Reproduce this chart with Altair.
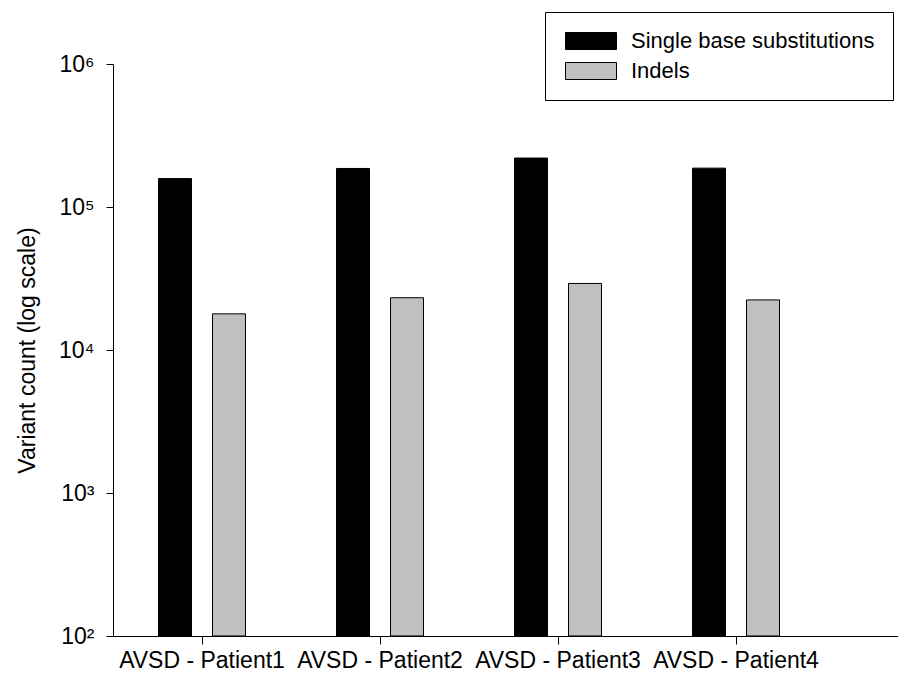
import altair as alt
import pandas as pd

patients = ["AVSD - Patient1", "AVSD - Patient2", "AVSD - Patient3", "AVSD - Patient4"]
series = ["Single base substitutions", "Indels"]
sbs_counts = [158000, 186000, 220000, 187000]
indel_counts = [17900, 23200, 29200, 22400]
y_ticks = [100, 1000, 10000, 100000, 1000000]
colors = ["#000000", "#c0c0c0"]

rows = []
for p, s, i in zip(patients, sbs_counts, indel_counts):
    rows.append({"patient": p, "type": series[0], "count": s})
    rows.append({"patient": p, "type": series[1], "count": i})
df = pd.DataFrame(rows)

FONT = "Liberation Sans"

chart = alt.Chart(df).mark_bar(stroke="black", strokeWidth=1).encode(
    x=alt.X("patient:N", sort=patients,
            scale=alt.Scale(paddingInner=0, paddingOuter=0.205, align=0),
            axis=alt.Axis(title=None, labelAngle=0, labelFontSize=23, labelFont=FONT,
                          labelColor="black", tickSize=8, labelPadding=5,
                          domainColor="black", tickColor="black", grid=False)),
    xOffset=alt.XOffset("type:N", sort=series,
                        scale=alt.Scale(paddingInner=0.389, paddingOuter=0.843)),
    y=alt.Y("count:Q",
            scale=alt.Scale(type="log", domain=[100, 1000000], nice=False),
            axis=alt.Axis(title="Variant count (log scale)", values=y_ticks,
                          labelExpr="'10' + ['⁰','¹','²','³','⁴','⁵','⁶'][round(log(datum.value)/LN10)]",
                          labelFontSize=23, labelFont=FONT, labelColor="black",
                          titleFontSize=23, titleFont=FONT, titleFontWeight="normal",
                          titleColor="black", titlePadding=19,
                          tickSize=7, labelPadding=12, domainColor="black",
                          tickColor="black", grid=False)),
    y2=alt.datum(100),
    color=alt.Color("type:N", sort=series,
                    scale=alt.Scale(domain=series, range=colors),
                    legend=alt.Legend(title=None, orient="none", legendX=432, legendY=-52,
                                      strokeColor="black", fillColor="white", padding=18,
                                      labelFontSize=22, labelFont=FONT, labelColor="black",
                                      labelLimit=0,
                                      symbolType="M-1,-1H5V1H-1Z", symbolSize=289,
                                      symbolStrokeColor="black", symbolStrokeWidth=1,
                                      symbolOpacity=1, rowPadding=8, labelOffset=46,
                                      cornerRadius=0)),
).properties(
    width=785, height=572,
    autosize=alt.AutoSizeParams(type="none"),
    padding={"left": 105, "top": 56, "right": 0, "bottom": 40},
).configure(background="white").configure_view(stroke=None)

chart.save("out.html", embed_options={"renderer": "svg", "actions": False})
